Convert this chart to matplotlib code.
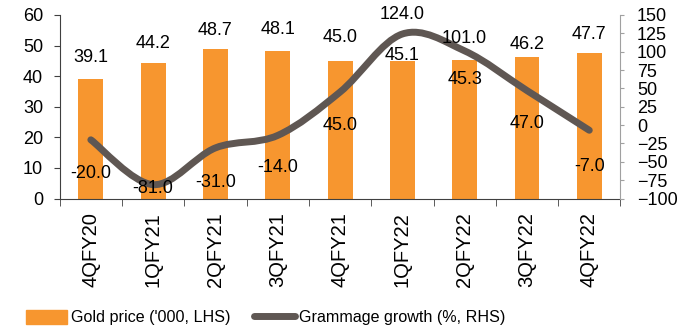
import numpy as np
import matplotlib.pyplot as plt
from matplotlib.path import Path
from matplotlib.patches import PathPatch
from matplotlib.lines import Line2D

plt.rcParams['font.family'] = ['Liberation Sans', 'DejaVu Sans']

quarters = ['4QFY20', '1QFY21', '2QFY21', '3QFY21', '4QFY21',
            '1QFY22', '2QFY22', '3QFY22', '4QFY22']
gold_price = [39.1, 44.2, 48.7, 48.1, 45.0, 45.1, 45.3, 46.2, 47.7]
grammage = [-20.0, -81.0, -31.0, -14.0, 45.0, 124.0, 101.0, 47.0, -7.0]

# label offsets (points), tweaked by eye
bar_lbl_off = [15.5, 14, 14, 15.5, 17, 3.5, -14, 9, 13]
line_lbl_off = [-24, -3, -25, -23, -24, 14, 9, -24, -26]

bar_col = '#F7962F'
line_col = '#5F5753'

fig = plt.figure(figsize=(6.94, 3.31), dpi=100)
ax = fig.add_axes([0.086, 0.40, 0.808, 0.555])
ax2 = ax.twinx()

x = np.arange(len(quarters))
ax.bar(x, gold_price, width=0.4, color=bar_col, zorder=2)
ax.set_ylim(0, 60)
ax.set_yticks(range(0, 61, 10))
ax.set_xlim(-0.5, len(quarters) - 0.5)
ax.set_xticks(x)
ax.set_xticklabels(quarters, rotation=90, fontsize=14.5)
ax.set_xticks(np.arange(-0.5, len(quarters)), minor=True)
ax.tick_params(axis='x', which='major', length=0, pad=10)
ax.tick_params(axis='x', which='minor', length=5, color='#404040')
ax.tick_params(axis='y', length=4, color='#404040', pad=8, labelsize=13)
for s in ['top', 'right']:
    ax.spines[s].set_visible(False)
ax.spines['left'].set_color('#404040')
ax.spines['bottom'].set_color('#404040')

# smooth line, Excel-style bezier through the points
ax2.set_ylim(-100, 150)
ax2.set_yticks(range(-100, 151, 25))
ax2.tick_params(axis='y', labelsize=13, length=3, color='#A0A0A0', pad=9)
for s in ['top', 'left', 'bottom']:
    ax2.spines[s].set_visible(False)
ax2.spines['right'].set_color('#A0A0A0')

pts = np.column_stack([x, grammage]).astype(float)
verts = [pts[0]]
codes = [Path.MOVETO]
n = len(pts)
for i in range(n - 1):
    p0 = pts[max(i - 1, 0)]
    p1 = pts[i]
    p2 = pts[i + 1]
    p3 = pts[min(i + 2, n - 1)]
    verts += [p1 + (p2 - p0) / 6, p2 - (p3 - p1) / 6, p2]
    codes += [Path.CURVE4] * 3
ax2.add_patch(PathPatch(Path(verts, codes), facecolor='none', edgecolor=line_col,
                        lw=5, capstyle='round', joinstyle='round', zorder=3))

for i in range(n):
    ax.annotate(f'{gold_price[i]:.1f}', (x[i], gold_price[i]), xytext=(0, bar_lbl_off[i]),
                textcoords='offset points', ha='center', va='center', fontsize=13, zorder=4)
    ax2.annotate(f'{grammage[i]:.1f}', (x[i], grammage[i]), xytext=(0, line_lbl_off[i]),
                 textcoords='offset points', ha='center', va='center', fontsize=13, zorder=4)

handles = [plt.Rectangle((0, 0), 1, 1, color=bar_col),
           Line2D([0], [0], color=line_col, lw=5, solid_capstyle='round')]
fig.legend(handles, ["Gold price ('000, LHS)", 'Grammage growth (%, RHS)'],
           loc='center left', bbox_to_anchor=(0.017, 0.04), ncol=2, frameon=False,
           fontsize=11.6, handlelength=2.5, handleheight=0.9, handletextpad=0.25,
           columnspacing=1.5)

fig.savefig('out.png', dpi=100)
